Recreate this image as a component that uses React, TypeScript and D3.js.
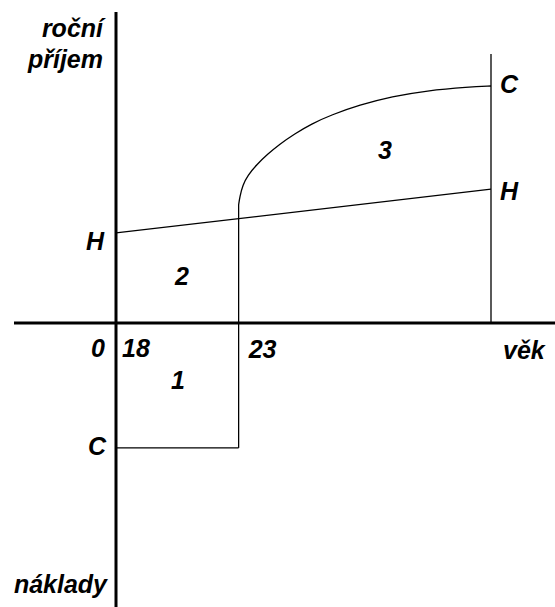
import React from "react";
import * as d3 from "d3";

// Abstract units: time runs 0 (age 18) .. 100 (end of working life); income 0..100 (C at end = 100)
const schoolEnd = 32.7; // age 23 in time units
const workEnd = 100;
const ageLabels = ["0", "18", "23"];
const axisTitles = ["roční", "příjem", "věk", "náklady"];
const costLevel = -52.7; // C (costs) during schooling
const hLine = [
  { t: 0, v: 38 },
  { t: 100, v: 56.5 },
];
const cCurve = [
  { t: 32.7, v: 49.8 },
  { t: 33.0, v: 53.2 },
  { t: 33.8, v: 58.2 },
  { t: 35.1, v: 62.2 },
  { t: 37.5, v: 66.8 },
  { t: 40.4, v: 71.2 },
  { t: 43.6, v: 75.4 },
  { t: 47.6, v: 79.8 },
  { t: 52.1, v: 84.0 },
  { t: 57.4, v: 87.8 },
  { t: 64.9, v: 92.0 },
  { t: 73.7, v: 95.6 },
  { t: 82.7, v: 98.0 },
  { t: 94.1, v: 99.6 },
  { t: 100, v: 100 },
];
const regionLabels = [
  { name: "1", t: 16.5, v: -24 },
  { name: "2", t: 17.6, v: 19.8 },
  { name: "3", t: 71.7, v: 73 },
];

const W = 555;
const H = 607;

export default function App() {
  const x = d3.scaleLinear().domain([0, 100]).range([116, 491]);
  const y = d3.scaleLinear().domain([0, 100]).range([323, 86]);
  const line = d3
    .line<{ t: number; v: number }>()
    .x((d) => x(d.t))
    .y((d) => y(d.v));
  const smooth = d3
    .line<{ t: number; v: number }>()
    .x((d) => x(d.t))
    .y((d) => y(d.v))
    .curve(d3.curveBasis);
  const font = {
    fontFamily: "'Liberation Sans', Arial, sans-serif",
    fontWeight: 700 as const,
    fontStyle: "italic" as const,
    fontSize: 25,
    fill: "#000",
  };
  const thin = { stroke: "#000", strokeWidth: 1.3, fill: "none" };
  const x0 = x(0);
  const y0 = y(0);
  return (
    <svg
      width={W}
      height={H}
      style={{ position: "absolute", left: 0, top: 0, background: "#fff" }}
    >
      {/* thin lines */}
      <path d={line(hLine) || ""} {...thin} />
      <path d={smooth(cCurve) || ""} {...thin} />
      <line x1={x(schoolEnd)} x2={x(schoolEnd)} y1={y(cCurve[0].v)} y2={y(costLevel)} {...thin} />
      <line x1={x0} x2={x(schoolEnd)} y1={y(costLevel)} y2={y(costLevel)} {...thin} />
      <line x1={x(workEnd)} x2={x(workEnd)} y1={54} y2={y0} {...thin} />
      {/* axes */}
      <line x1={x0} x2={x0} y1={12} y2={H} stroke="#000" strokeWidth={3} />
      <line x1={14} x2={W} y1={y0} y2={y0} stroke="#000" strokeWidth={3} />
      {/* axis titles */}
      <text x={x0 - 13} y={37} textAnchor="end" {...font}>{axisTitles[0]}</text>
      <text x={x0 - 13} y={68} textAnchor="end" {...font}>{axisTitles[1]}</text>
      <text x={503} y={y0 + 36} {...font}>{axisTitles[2]}</text>
      <text x={x0 - 9} y={593} textAnchor="end" {...font}>{axisTitles[3]}</text>
      {/* tick labels */}
      <text x={x0 - 11} y={y0 + 34} textAnchor="end" {...font}>{ageLabels[0]}</text>
      <text x={x0 + 6} y={y0 + 34} {...font}>{ageLabels[1]}</text>
      <text x={x(schoolEnd) + 10} y={y0 + 35} {...font}>{ageLabels[2]}</text>
      {/* point labels */}
      <text x={x0 - 12} y={y(hLine[0].v) + 17} textAnchor="end" {...font}>H</text>
      <text x={x0 - 10} y={y(costLevel) + 7} textAnchor="end" {...font}>C</text>
      <text x={x(workEnd) + 9} y={y(100) + 7} {...font}>C</text>
      <text x={x(workEnd) + 9} y={y(hLine[1].v) + 11} {...font}>H</text>
      {regionLabels.map((r) => (
        <text key={r.name} x={x(r.t)} y={y(r.v)} textAnchor="middle" dominantBaseline="central" {...font}>
          {r.name}
        </text>
      ))}
    </svg>
  );
}
